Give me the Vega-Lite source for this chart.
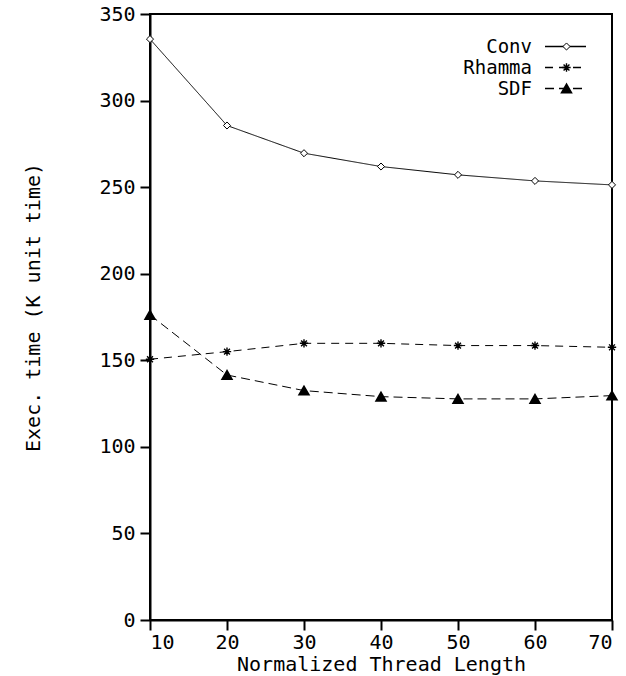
{
  "$schema": "https://vega.github.io/schema/vega-lite/v6.json",
  "width": 462,
  "height": 606,
  "autosize": "none",
  "padding": {"left": 150, "top": 14, "right": 14, "bottom": 56},
  "background": "white",
  "config": {
    "font": "DejaVu Sans Mono",
    "view": {"stroke": "black", "strokeWidth": 2},
    "axis": {
      "domainColor": "black", "domainWidth": 2,
      "tickColor": "black", "tickWidth": 2, "tickSize": 10,
      "labelFont": "DejaVu Sans Mono", "labelFontSize": 20, "labelColor": "black",
      "titleFont": "DejaVu Sans Mono", "titleFontSize": 20, "titleFontWeight": "normal", "titleColor": "black",
      "grid": false
    },
    "legend": {
      "labelFont": "DejaVu Sans Mono", "labelFontSize": 19, "labelColor": "black"
    }
  },
  "data": {"values": [
    {"len": 10, "series": "Conv", "time": 335.5},
    {"len": 20, "series": "Conv", "time": 285.6},
    {"len": 30, "series": "Conv", "time": 269.6},
    {"len": 40, "series": "Conv", "time": 261.9},
    {"len": 50, "series": "Conv", "time": 257.1},
    {"len": 60, "series": "Conv", "time": 253.6},
    {"len": 70, "series": "Conv", "time": 251.3},
    {"len": 10, "series": "Rhamma", "time": 150.6},
    {"len": 20, "series": "Rhamma", "time": 155.0},
    {"len": 30, "series": "Rhamma", "time": 159.8},
    {"len": 40, "series": "Rhamma", "time": 159.8},
    {"len": 50, "series": "Rhamma", "time": 158.5},
    {"len": 60, "series": "Rhamma", "time": 158.5},
    {"len": 70, "series": "Rhamma", "time": 157.5},
    {"len": 10, "series": "SDF", "time": 176.2},
    {"len": 20, "series": "SDF", "time": 141.5},
    {"len": 30, "series": "SDF", "time": 132.5},
    {"len": 40, "series": "SDF", "time": 129.0},
    {"len": 50, "series": "SDF", "time": 127.7},
    {"len": 60, "series": "SDF", "time": 127.7},
    {"len": 70, "series": "SDF", "time": 129.6}
  ]},
  "encoding": {
    "x": {"field": "len", "type": "quantitative",
      "scale": {"domain": [10, 70], "nice": false, "zero": false},
      "axis": {"values": [10, 20, 30, 40, 50, 60, 70], "title": "Normalized Thread Length", "labelPadding": 2, "titlePadding": 2}},
    "y": {"field": "time", "type": "quantitative",
      "scale": {"domain": [0, 350], "nice": false},
      "axis": {"values": [0, 50, 100, 150, 200, 250, 300, 350], "title": "Exec. time (K unit time)", "labelPadding": 5, "titleX": -117, "titleY": 293, "titleBaseline": "middle", "titleAngle": -90}}
  },
  "layer": [
    {
      "mark": {"type": "line", "color": "black", "strokeWidth": 1},
      "encoding": {
        "strokeDash": {"field": "series", "type": "nominal",
          "scale": {"domain": ["Conv", "Rhamma", "SDF"], "range": [[1, 0], [8, 6], [9, 5]]},
          "legend": {"title": null, "orient": "top-right", "offset": 23, "padding": 0,
            "symbolType": "M-4,0L4,0", "symbolSize": 105, "symbolStrokeColor": "black", "symbolStrokeWidth": 1.5,
            "labelAlign": "right", "labelOffset": -43, "rowPadding": 1}}
      }
    },
    {
      "mark": {"type": "point", "filled": true, "opacity": 1, "stroke": "black"},
      "encoding": {
        "shape": {"field": "series", "type": "nominal",
          "scale": {"range": ["diamond", "M-1,0L1,0M0,-1L0,1M-0.7,-0.7L0.7,0.7M-0.7,0.7L0.7,-0.7", "triangle-up"]},
          "legend": {"title": null, "orient": "none", "legendX": 407, "legendY": 23, "padding": 0,
            "labelExpr": "''", "rowPadding": 1, "symbolStrokeColor": "black", "symbolOpacity": 1}},
        "fill": {"field": "series", "type": "nominal",
          "scale": {"range": ["white", "black", "black"]}},
        "size": {"field": "series", "type": "nominal",
          "scale": {"range": [50, 90, 55]}},
        "strokeWidth": {"field": "series", "type": "nominal",
          "scale": {"range": [1, 1.8, 1]}}
      }
    }
  ]
}
